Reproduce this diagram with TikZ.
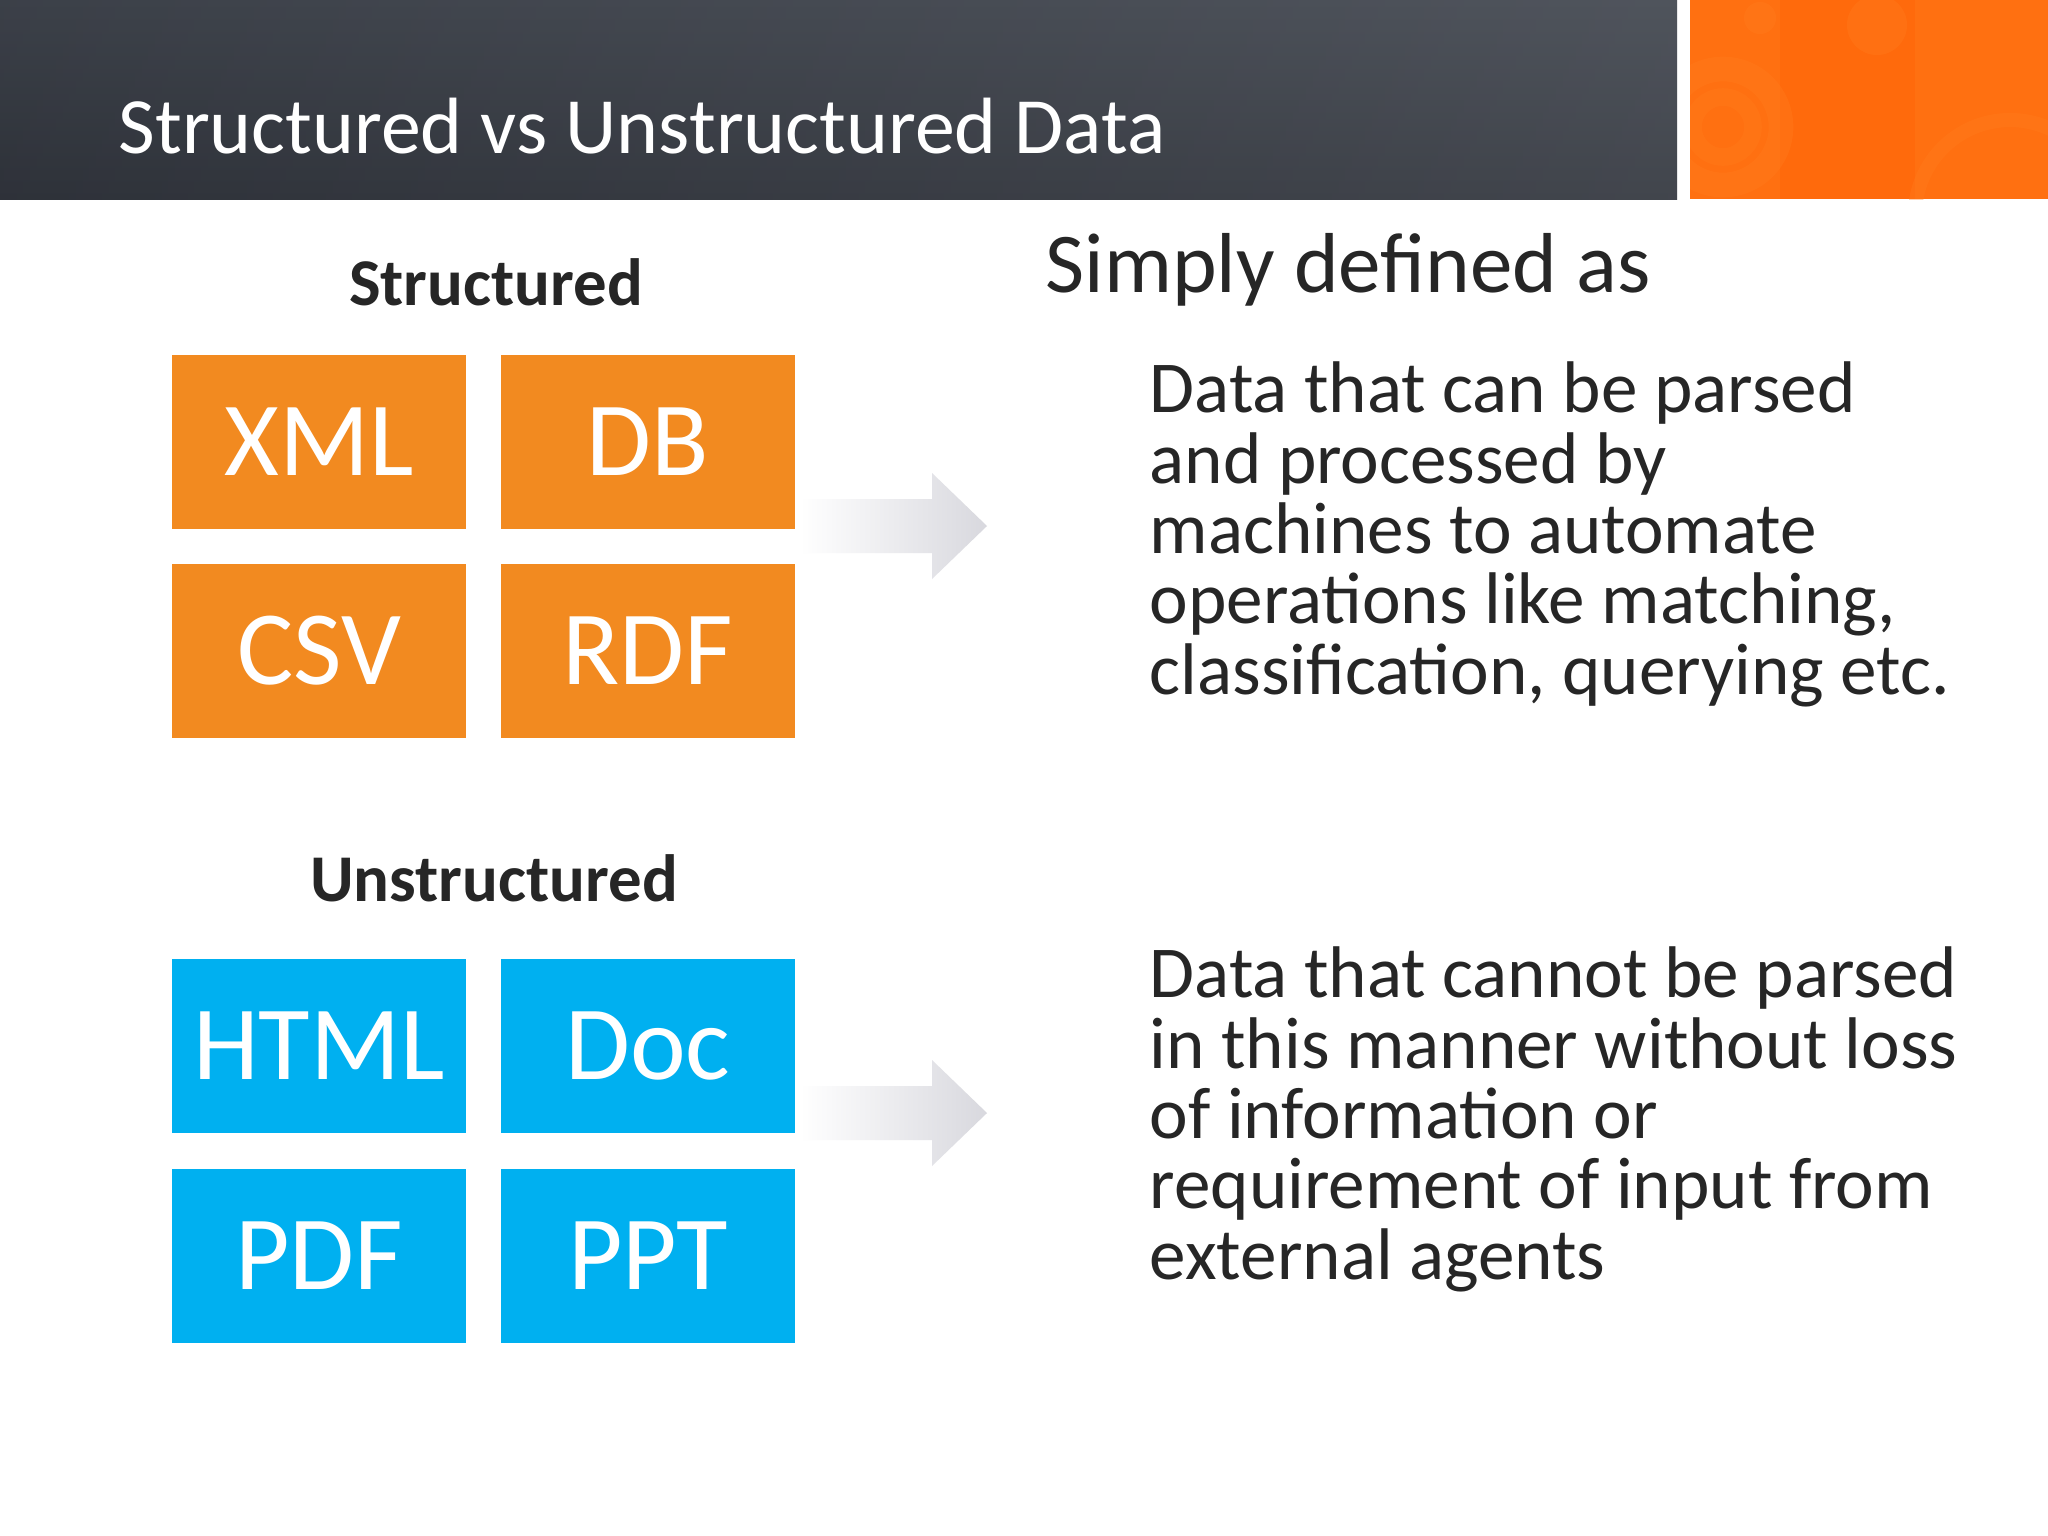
\documentclass[tikz,border=0pt]{standalone}
\usepackage{fontspec}
\setmainfont{Carlito}
\definecolor{hdrdark}{HTML}{32363E}
\definecolor{hdrlight}{HTML}{41464F}
\definecolor{accorange}{HTML}{F28A20}
\definecolor{accblue}{HTML}{00B0F0}
\definecolor{bandorange}{HTML}{FF6A0C}
\definecolor{bandlight}{HTML}{FF7E1E}
\definecolor{txtdark}{HTML}{262626}
\definecolor{arrowgray}{HTML}{D8D8DE}
\tikzset{
  tile/.style={minimum width=2.94cm, minimum height=1.74cm, inner sep=0pt,
    text=white, font=\fontsize{30}{36}\selectfont},
  orangetile/.style={tile, fill=accorange},
  bluetile/.style={tile, fill=accblue},
  grouplabel/.style={anchor=base, inner sep=0pt, text=txtdark,
    font=\fontsize{19}{23}\selectfont\bfseries},
  bodytext/.style={anchor=base west, inner sep=0pt, text=txtdark, align=left,
    font=\fontsize{20.8}{20}\selectfont},
  fadearrow/.style={left color=white, right color=arrowgray, draw=none},
}
\begin{document}
\begin{tikzpicture}[x=0.01cm, y=-0.01cm]
\useasboundingbox (0,0) rectangle (2048,1536);
\fill[white] (0,0) rectangle (2048,1536);
% header band
\shade[top color=hdrlight, bottom color=hdrdark] (0,0) rectangle (1677,199);
\shade[left color=black, right color=white, opacity=0.08] (0,0) rectangle (1677,199);
% orange panel
\fill[bandorange] (1690,0) rectangle (2048,199);
\begin{scope}
\clip (1690,0) rectangle (2048,199);
\fill[bandlight, opacity=0.3] (1690,0) rectangle (1780,199);
\fill[bandlight, opacity=0.3] (1915,0) rectangle (2048,199);
\draw[bandlight, line width=7pt, opacity=0.35] (1723,127) circle (58);
\draw[bandlight, line width=5pt, opacity=0.3] (1723,127) circle (30);
\fill[bandlight, opacity=0.35] (1877,25) circle (30);
\fill[bandlight, opacity=0.35] (1760,18) circle (16);
\draw[bandlight, line width=4pt, opacity=0.35] (2010,215) circle (95);
\end{scope}
\node[anchor=base west, inner sep=0pt, text=white, font=\fontsize{22.7}{27}\selectfont]
  (title) at (118,153) {Structured vs Unstructured Data};

% structured
\node[grouplabel] (slabel) at (496,305) {Structured};
\node[orangetile] (xml) at (319,442) {XML};
\node[orangetile] (db)  at (648,442) {DB};
\node[orangetile] (csv) at (319,651) {CSV};
\node[orangetile] (rdf) at (648,651) {RDF};

% unstructured
\node[grouplabel] (ulabel) at (494,901) {Unstructured};
\node[bluetile] (html) at (319,1046) {HTML};
\node[bluetile] (doc)  at (648,1046) {Doc};
\node[bluetile] (pdf)  at (319,1256) {PDF};
\node[bluetile] (ppt)  at (648,1256) {PPT};

% arrows
\shade[fadearrow] (800,499) -- (932,499) -- (932,473) -- (987,526) -- (932,579) -- (932,553) -- (800,553) -- cycle;
\shade[fadearrow] (800,1086) -- (932,1086) -- (932,1060) -- (987,1113) -- (932,1166) -- (932,1140) -- (800,1140) -- cycle;

% right column (base anchor = baseline of last line)
\node[anchor=base west, inner sep=0pt, text=txtdark, font=\fontsize{24.2}{29}\selectfont]
  (simply) at (1045,292) {Simply defined as};
\node[bodytext] (def1) at (1149,694) {Data that can be parsed\\and processed by\\machines to automate\\operations like matching,\\classification, querying etc.};
\node[bodytext] (def2) at (1149,1279) {Data that cannot be parsed\\in this manner without loss\\of information or\\requirement of input from\\external agents};
\end{tikzpicture}
\end{document}
